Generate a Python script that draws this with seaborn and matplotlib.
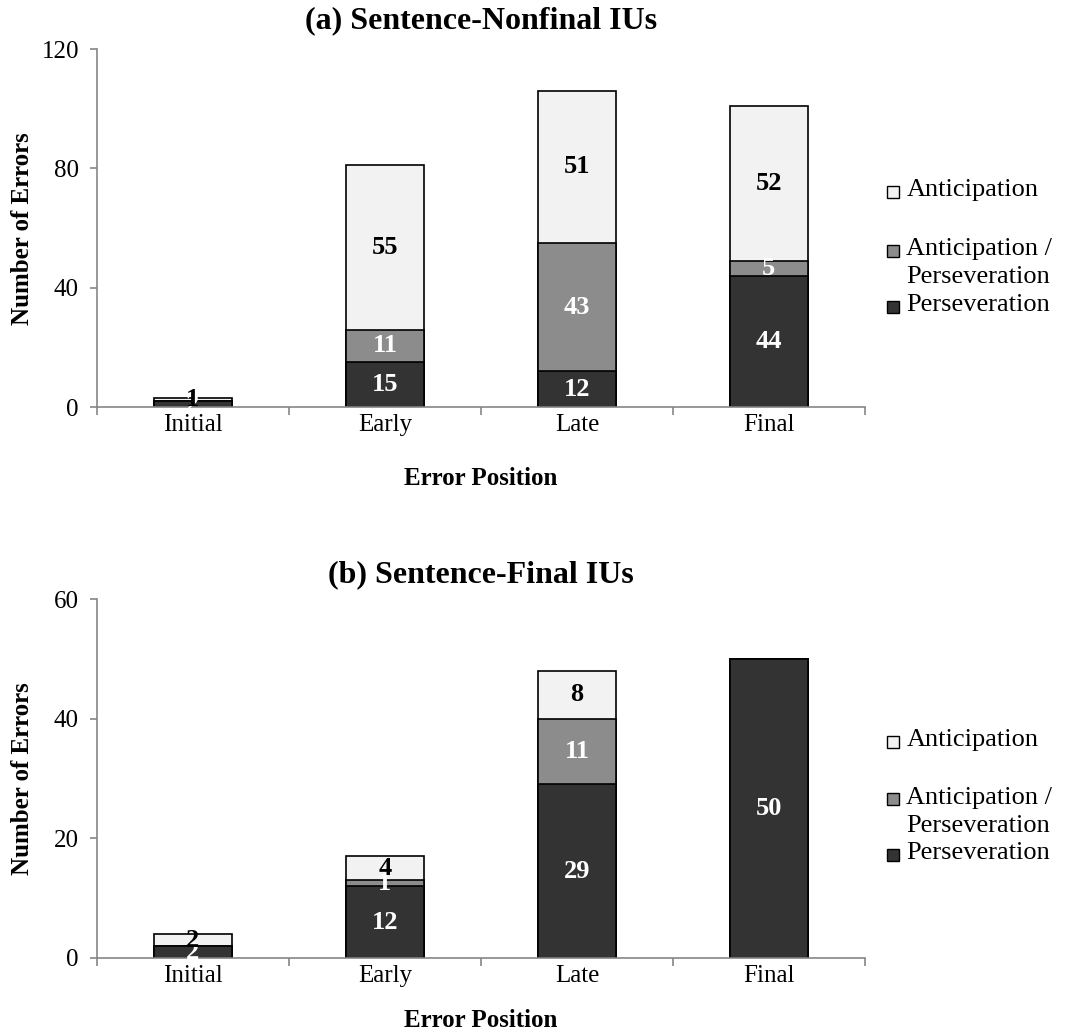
import numpy as np
import pandas as pd
import matplotlib
matplotlib.use('Agg')
import matplotlib.pyplot as plt
from matplotlib.patches import Rectangle
import seaborn as sns

# Data
positions = ['Initial', 'Early', 'Late', 'Final']
series = ['Anticipation', 'Anticipation /\nPerseveration', 'Perseveration']

# (a) sentence-nonfinal IUs
a_persev = [2, 15, 12, 44]
a_antpers = [0, 11, 43, 5]
a_antic = [1, 55, 51, 52]

# (b) sentence-final IUs
b_persev = [2, 12, 29, 50]
b_antpers = [0, 1, 11, 0]
b_antic = [2, 4, 8, 0]

colors = {'Anticipation': '#f2f2f2',
          'Anticipation /\nPerseveration': '#8c8c8c',
          'Perseveration': '#333333'}
text_colors = {'Anticipation': 'black',
               'Anticipation /\nPerseveration': 'white',
               'Perseveration': 'white'}

sns.set_style('white')
plt.rcParams['font.family'] = ['Liberation Serif', 'DejaVu Serif']
plt.rcParams['text.color'] = 'black'
plt.rcParams['axes.labelcolor'] = 'black'
plt.rcParams['axes.titlecolor'] = 'black'
plt.rcParams['xtick.labelcolor'] = 'black'
plt.rcParams['ytick.labelcolor'] = 'black'

fig = plt.figure(figsize=(10.74, 10.36), dpi=100)
ax_a = fig.add_axes([0.0903, 0.607, 0.715, 0.3456])
ax_b = fig.add_axes([0.0903, 0.0753, 0.715, 0.3465])

spine_color = '#868686'


def draw_legend(ax, ys):
    # Excel-style legend, entries placed by hand (ys in axes fraction)
    y_ant, y_mid1, y_mid2, y_pers = ys
    entries = [('Anticipation', y_ant), ('Anticipation /\nPerseveration', y_mid1),
               ('Perseveration', y_pers)]
    ph = 12 / (ax.bbox.height)
    pw = 12 / (ax.bbox.width)
    for name, y in entries:
        ax.add_patch(Rectangle((1.029, y - ph / 2 - 0.004), pw, ph,
                               transform=ax.transAxes, clip_on=False,
                               facecolor=colors[name], edgecolor='black',
                               linewidth=1.0))
    for y, txt in [(y_ant, 'Anticipation'), (y_mid1, 'Anticipation /'),
                   (y_mid2, 'Perseveration'), (y_pers, 'Perseveration')]:
        ax.text(1.054, y, txt, transform=ax.transAxes,
                ha='left', va='center', fontsize=19)


def draw_panel(ax, persev, antpers, antic, title, ymax, step, leg_ys,
               xpad, tpad):
    df = pd.DataFrame({'position': positions,
                       'Perseveration': persev,
                       'Anticipation /\nPerseveration': antpers,
                       'Anticipation': antic})
    df['c_pers'] = df['Perseveration']
    df['c_mid'] = df['c_pers'] + df['Anticipation /\nPerseveration']
    df['c_top'] = df['c_mid'] + df['Anticipation']

    # stack by overlaying cumulative totals, tallest first
    for col, name in [('c_top', 'Anticipation'),
                      ('c_mid', 'Anticipation /\nPerseveration'),
                      ('c_pers', 'Perseveration')]:
        sns.barplot(data=df, x='position', y=col, order=positions,
                    color=colors[name], edgecolor='black', linewidth=1.2,
                    width=0.41, errorbar=None, saturation=1, ax=ax)

    # segment labels
    for i, row in df.iterrows():
        segs = [('Perseveration', 0, row['c_pers']),
                ('Anticipation /\nPerseveration', row['c_pers'], row['c_mid']),
                ('Anticipation', row['c_mid'], row['c_top'])]
        for name, lo, hi in segs:
            val = hi - lo
            if val <= 0:
                continue
            ax.text(i, (lo + hi) / 2, f'{int(val)}', ha='center', va='center',
                    color=text_colors[name], fontsize=19, fontweight='bold')

    ax.set_xlim(-0.5, 3.5)
    ax.set_ylim(0, ymax)
    ax.set_yticks(np.arange(0, ymax + 1, step))
    ax.set_xticks(np.arange(-0.5, 4, 1), minor=True)
    ax.tick_params(axis='x', which='major', length=0, labelsize=18, pad=5)
    ax.tick_params(axis='x', which='minor', length=6, color=spine_color,
                   width=1.2, bottom=True)
    ax.tick_params(axis='y', length=5, color=spine_color, width=1.2,
                   labelsize=18, left=True, pad=8)
    for s in ['top', 'right']:
        ax.spines[s].set_visible(False)
    for s in ['left', 'bottom']:
        ax.spines[s].set_color(spine_color)
        ax.spines[s].set_linewidth(1.2)
    ax.set_xlabel('Error Position', fontsize=18, fontweight='bold',
                  labelpad=xpad)
    ax.set_ylabel('Number of Errors', fontsize=18, fontweight='bold')
    ax.yaxis.set_label_coords(-0.082, 0.5)
    ax.set_title(title, fontsize=23, fontweight='bold', pad=tpad)

    draw_legend(ax, leg_ys)


draw_panel(ax_a, a_persev, a_antpers, a_antic, '(a) Sentence-Nonfinal IUs',
           120, 40, (0.606, 0.441, 0.363, 0.285), 22, 15)
draw_panel(ax_b, b_persev, b_antpers, b_antic, '(b) Sentence-Final IUs',
           60, 20, (0.607, 0.446, 0.368, 0.292), 16, 12)

fig.savefig('out.png', dpi=100)
